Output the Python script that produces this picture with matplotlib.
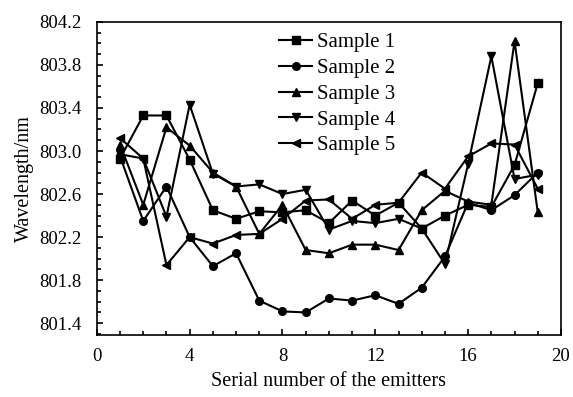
import numpy as np
import matplotlib
matplotlib.use("Agg")
import matplotlib.pyplot as plt
from matplotlib.ticker import MultipleLocator

plt.rcParams["font.family"] = ["Liberation Serif", "DejaVu Serif"]

emitters = list(range(1, 20))
sample1 = [802.93, 803.33, 803.33, 802.92, 802.45, 802.37, 802.44, 802.43, 802.45, 802.33,
           802.54, 802.40, 802.52, 802.28, 802.40, 802.50, 802.48, 802.87, 803.63]
sample2 = [802.95, 802.35, 802.67, 802.20, 801.93, 802.05, 801.61, 801.51, 801.50, 801.63,
           801.61, 801.66, 801.58, 801.73, 802.02, 802.52, 802.45, 802.59, 802.80]
sample3 = [803.06, 802.50, 803.22, 803.05, 802.80, 802.67, 802.23, 802.50, 802.08, 802.05,
           802.13, 802.13, 802.08, 802.45, 802.63, 802.53, 802.50, 804.02, 802.43]
sample4 = [802.97, 802.93, 802.39, 803.43, 802.79, 802.67, 802.69, 802.60, 802.64, 802.27,
           802.35, 802.33, 802.37, 802.28, 801.95, 802.88, 803.88, 802.74, 802.78]
sample5 = [803.12, 802.93, 801.94, 802.20, 802.14, 802.22, 802.23, 802.37, 802.54, 802.55,
           802.37, 802.50, 802.52, 802.80, 802.65, 802.95, 803.07, 803.06, 802.65]

series = [sample1, sample2, sample3, sample4, sample5]
labels = ["Sample 1", "Sample 2", "Sample 3", "Sample 4", "Sample 5"]
markers = ["s", "o", "^", "v", "<"]

fig = plt.figure(figsize=(5.73, 3.97), dpi=100)
ax = fig.add_axes([0.169, 0.156, 0.810, 0.789])

for vals, lab, m in zip(series, labels, markers):
    ax.plot(emitters, vals, color="black", marker=m, markersize=5.5, linewidth=1.5, label=lab)

ax.set_xlim(0, 20)
ax.set_ylim(801.29, 804.2)
ax.xaxis.set_major_locator(MultipleLocator(4))
ax.xaxis.set_minor_locator(MultipleLocator(1))
ax.yaxis.set_minor_locator(MultipleLocator(0.1))
yt = np.arange(801.4, 804.21, 0.4)
ax.set_yticks(yt)
ax.set_yticklabels([f"{v:.1f}" for v in yt])
ax.tick_params(which="both", direction="in", top=False, right=False, labelsize=13.5, width=1.2)
ax.tick_params(which="major", length=4)
ax.tick_params(which="minor", length=3)
ax.tick_params(axis="y", which="major", pad=11)
ax.tick_params(axis="x", which="major", pad=9)
for s in ax.spines.values():
    s.set_linewidth(1.2)

ax.set_xlabel("Serial number of the emitters", fontsize=14.5, labelpad=5)
ax.set_ylabel("Wavelength/nm", fontsize=14.5, labelpad=4)

fig.legend(loc="upper left", bbox_to_anchor=(0.487, 0.918), frameon=False, fontsize=15,
           handlelength=1.6, handletextpad=0.2, labelspacing=0.3, borderpad=0, borderaxespad=0)

fig.savefig("out.png", dpi=100)
